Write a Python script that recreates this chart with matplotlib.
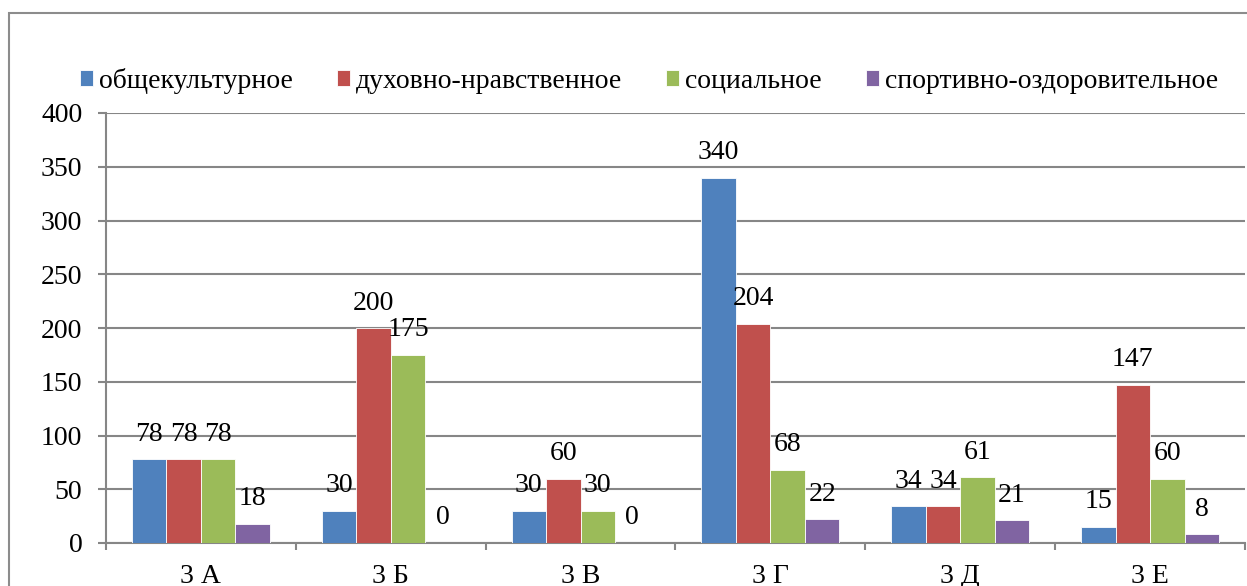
import matplotlib
matplotlib.use("Agg")
import matplotlib.pyplot as plt
import numpy as np
from matplotlib.patches import Rectangle

plt.rcParams["font.family"] = ["Liberation Serif", "DejaVu Serif"]

CLASSES = ["3 А", "3 Б", "3 В", "3 Г", "3 Д", "3 Е"]
SERIES = ["общекультурное", "духовно-нравственное", "социальное",
          "спортивно-оздоровительное"]
general_culture = [78, 30, 30, 340, 34, 15]
spiritual_moral = [78, 200, 60, 204, 34, 147]
social = [78, 175, 30, 68, 61, 60]
sport_health = [18, 0, 0, 22, 21, 8]
Y_TICKS = [0, 50, 100, 150, 200, 250, 300, 350, 400]

COLORS = ["#4F81BD", "#C0504D", "#9BBB59", "#8064A2"]
FS = 20
GRID = "#868686"

W, H = 1247, 586
fig = plt.figure(figsize=(W / 100, H / 100), dpi=100)
ax = fig.add_axes([106 / W, 1 - 543 / H, (1245 - 106) / W, (543 - 113) / H])

# outer chart border (cut off at right and bottom like the source)
fig.patches.append(Rectangle((9 / W, -0.1), 1.2, 1.1 - 13 / H,
                             transform=fig.transFigure, fill=False,
                             edgecolor="#8c8c8c", linewidth=1.5))

values = [general_culture, spiritual_moral, social, sport_health]
n = len(values)
bar_w = 1 / (n + 1.5)
x = np.arange(len(CLASSES))

for i, (vals, name, col) in enumerate(zip(values, SERIES, COLORS)):
    pos = x - n * bar_w / 2 + (i + 0.5) * bar_w
    ax.bar(pos, vals, width=bar_w, color=col, edgecolor="white",
           linewidth=0.6, label=name, zorder=3)
    for p, v in zip(pos, vals):
        ax.annotate(str(v), (p, v), xytext=(0, 18), textcoords="offset points",
                    ha="center", va="center", fontsize=FS, zorder=4)

ax.set_xlim(-0.5, len(CLASSES) - 0.5)
ax.set_ylim(0, 400)
ax.set_yticks(Y_TICKS)
ax.yaxis.grid(True, color=GRID, linewidth=1.5, zorder=0)
ax.tick_params(axis="y", labelsize=FS, length=6, width=1.5, color=GRID, pad=11)

ax.set_xticks(np.arange(len(CLASSES) + 1) - 0.5)
ax.set_xticklabels([])
ax.set_xticks(x, minor=True)
ax.set_xticklabels(CLASSES, minor=True)
ax.tick_params(axis="x", which="major", length=5, width=1.5, color=GRID)
ax.tick_params(axis="x", which="minor", length=0, labelsize=FS, pad=15)

for side in ["top", "right"]:
    ax.spines[side].set_visible(False)
for side in ["left", "bottom"]:
    ax.spines[side].set_color(GRID)
    ax.spines[side].set_linewidth(1.5)

fig.legend(loc="center left", bbox_to_anchor=(80 / W, 1 - 81 / H), ncol=4,
           frameon=False, fontsize=FS, handlelength=0.47, handleheight=0.47,
           handletextpad=0.22, columnspacing=1.58, borderpad=0, borderaxespad=0)

fig.savefig("out.png", dpi=100)
